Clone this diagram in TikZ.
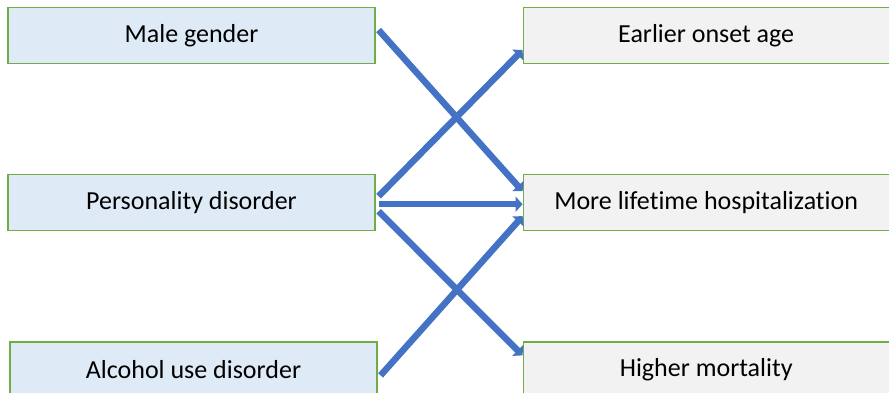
\documentclass[tikz,border=0pt]{standalone}
\usepackage{fontspec}
\setmainfont{Carlito}[Ligatures=NoCommon]
\usetikzlibrary{arrows.meta,positioning}
\definecolor{causefill}{HTML}{DEEBF7}
\definecolor{outfill}{HTML}{F2F2F2}
\definecolor{boxline}{HTML}{70AD47}
\definecolor{linkblue}{HTML}{4472C4}

\begin{document}
\begin{tikzpicture}[x=1pt, y=1pt,
  font=\fontsize{26}{30}\selectfont,
  cause/.style={draw=boxline, line width=1.2pt, fill=causefill, minimum width=367pt, minimum height=56pt, inner sep=0pt},
  outcome/.style={draw=boxline, line width=1.2pt, fill=outfill, minimum width=366pt, minimum height=56pt, inner sep=0pt},
  link/.style={draw=linkblue, line width=6.5pt, -{Triangle[length=7pt,width=15pt]}},
  node distance=110pt and 147pt]
\useasboundingbox (0,0) rectangle (889,-392);
\node[cause] (male) at (191.5,-35.5) {Male gender};
\node[cause, below=of male] (pers) {Personality disorder};
\node[cause, below=of pers, xshift=2pt] (alc) {Alcohol use disorder};
\node[outcome, right=of male] (onset) {Earlier onset age};
\node[outcome, right=of pers] (hosp) {More lifetime hospitalization};
\node[outcome, below=of hosp] (mort) {Higher mortality};
\draw[link] ([shift={(3pt,5.5pt)}]male.east) -- ([yshift=11.5pt]hosp.west);
\draw[link] ([shift={(3pt,6.5pt)}]pers.east) -- ([yshift=-14.5pt]onset.west);
\draw[link] ([shift={(3pt,-1.5pt)}]pers.east) -- ([yshift=-1.5pt]hosp.west);
\draw[link] ([shift={(3pt,-8.5pt)}]pers.east) -- ([yshift=14.5pt]mort.west);
\draw[link] ([shift={(3pt,-5.5pt)}]alc.east) -- ([yshift=-13.5pt]hosp.west);
\end{tikzpicture}
\end{document}
